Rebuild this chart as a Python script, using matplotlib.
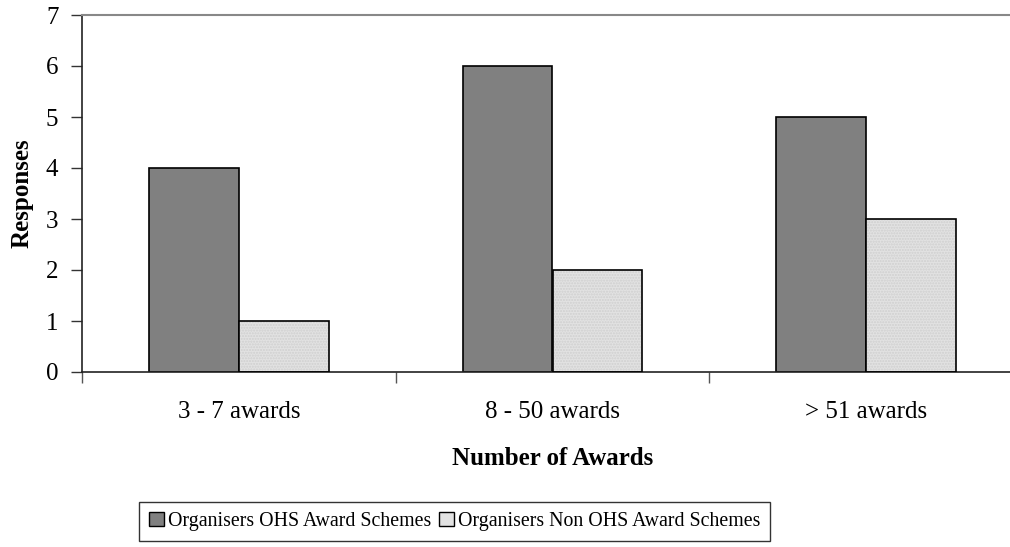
import numpy as np
import matplotlib
matplotlib.use("Agg")
import matplotlib.pyplot as plt
import matplotlib.patches as mpatches

plt.rcParams["font.family"] = ["Liberation Serif", "DejaVu Serif"]

categories = ["3 - 7 awards", "8 - 50 awards", "> 51 awards"]
ohs = [4, 6, 5]
non_ohs = [1, 2, 3]
series_names = ["Organisers OHS Award Schemes", "Organisers Non OHS Award Schemes"]

fig = plt.figure(figsize=(10.1, 5.47), dpi=100)
ax = fig.add_axes([82 / 1010, 175 / 547, 941 / 1010, 357 / 547])

x = np.arange(len(categories))
w = 0.2866

ax.bar(x - w / 2, ohs, w, color="#808080", edgecolor="black", linewidth=1.2,
       label=series_names[0], zorder=2)
# light bars: dotted fill first, then black outline on top
ax.bar(x + w / 2, non_ohs, w, color="#e2e2e2", edgecolor="#cfcfcf", linewidth=0,
       hatch="......", zorder=2)
ax.bar(x + w / 2, non_ohs, w, color="none", edgecolor="black", linewidth=1.2,
       zorder=3)

ax.set_xlim(-0.5, 2.5)
ax.set_ylim(0, 7)
ax.set_yticks(range(0, 8))
ax.set_xticks(x)
ax.set_xticklabels(categories)
ax.set_xticks([-0.5, 0.5, 1.5, 2.5], minor=True)
ax.tick_params(axis="x", which="major", length=0, pad=21, labelsize=18)
ax.tick_params(axis="x", which="minor", length=8, width=1, color="#555555")
ax.tick_params(axis="y", length=8, width=1, color="#333333", labelsize=18, pad=9)

for s in ["left", "bottom"]:
    ax.spines[s].set_color("#222222")
    ax.spines[s].set_linewidth(1.2)
for s in ["top", "right"]:
    ax.spines[s].set_color("#888888")
    ax.spines[s].set_linewidth(1.5)

ax.set_ylabel("Responses", fontsize=18, fontweight="bold", labelpad=9)
ax.set_xlabel("Number of Awards", fontsize=18, fontweight="bold", labelpad=17)

h1 = mpatches.Patch(facecolor="#808080", edgecolor="black", linewidth=1)
h2 = mpatches.Patch(facecolor="#e2e2e2", edgecolor="black", linewidth=1)
leg = fig.legend([h1, h2], series_names, loc="upper center",
                 bbox_to_anchor=(454.5 / 1010, 1 - 502 / 547), ncol=2,
                 fontsize=14.3, frameon=True, fancybox=False, shadow=False,
                 handlelength=0.75, handleheight=0.75, handletextpad=0.2,
                 columnspacing=0.4, borderpad=0.5, borderaxespad=0)
leg.get_frame().set_edgecolor("black")
leg.get_frame().set_linewidth(1)

fig.savefig("out.png", dpi=100)
